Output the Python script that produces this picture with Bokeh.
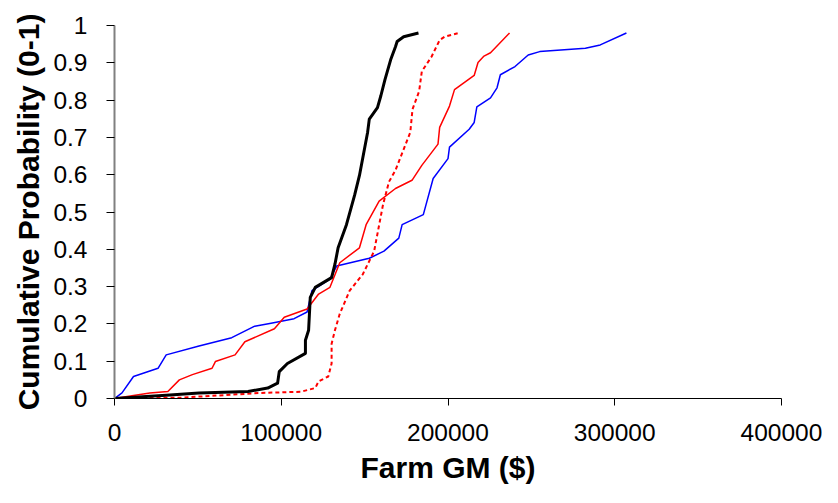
from bokeh.plotting import figure
from bokeh.models import Range1d, FixedTicker
from bokeh.embed import file_html
from bokeh.resources import INLINE

# Data
blue_x = [0, 4500, 11400, 26100, 31000, 50700, 70300, 84100, 93900, 107700, 115500, 118400, 129200,
          133200, 152800, 161600, 170500, 172500, 185200, 191100, 200000, 200900, 212700, 215700,
          217300, 225500, 229400, 231400, 240200, 248100, 255000, 282400, 291300, 307000]
blue_y = [0, 0.015, 0.059, 0.081, 0.117, 0.141, 0.163, 0.194, 0.202, 0.214, 0.232, 0.289, 0.320,
          0.355, 0.376, 0.395, 0.430, 0.466, 0.493, 0.590, 0.643, 0.674, 0.722, 0.740,
          0.782, 0.806, 0.833, 0.868, 0.890, 0.921, 0.930, 0.939, 0.948, 0.980]

red_x = [0, 11400, 21200, 32000, 38900, 46700, 58500, 60500, 72300, 78200, 95900, 101800, 115500,
         122400, 129200, 135100, 146900, 150900, 158700, 168500, 178400, 184300, 194000, 195000,
         200900, 203900, 215700, 218000, 221600, 225500, 236900]
red_y = [0, 0.008, 0.015, 0.019, 0.050, 0.064, 0.081, 0.099, 0.117, 0.152, 0.187, 0.218, 0.240,
         0.280, 0.298, 0.364, 0.404, 0.466, 0.529, 0.563, 0.585, 0.625, 0.682, 0.727,
         0.784, 0.828, 0.866, 0.901, 0.918, 0.927, 0.980]

dot_x = [0, 38900, 88000, 111600, 120400, 122400, 128200, 130200, 130200, 132200, 135100, 141000,
         148900, 155700, 161000, 164600, 168500, 177400, 178700, 182700, 184300, 190200, 195000,
         198000, 205800]
dot_y = [0, 0.002, 0.015, 0.018, 0.028, 0.046, 0.059, 0.094, 0.147, 0.183, 0.227, 0.289,
         0.333, 0.395, 0.519, 0.581, 0.612, 0.714, 0.775, 0.824, 0.877, 0.917, 0.961,
         0.970, 0.979]

black_x = [0, 31000, 50700, 80100, 91900, 97800, 98800, 103700, 114500, 114500, 116400, 117400,
           120400, 130200, 132200, 134100, 139100, 144000, 146900, 151800, 152800, 157700, 159700,
           162200, 165600, 168500, 169500, 173400, 182300]
black_y = [0, 0.009, 0.015, 0.019, 0.028, 0.041, 0.072, 0.094, 0.121, 0.156, 0.183, 0.271,
           0.298, 0.324, 0.360, 0.404, 0.466, 0.545, 0.598, 0.714, 0.749, 0.780, 0.811,
           0.855, 0.908, 0.943, 0.957, 0.970, 0.980]

x_ticks = [0, 100000, 200000, 300000, 400000]
x_labels = ["0", "100000", "200000", "300000", "400000"]
y_ticks = [0, 0.1, 0.2, 0.3, 0.4, 0.5, 0.6, 0.7, 0.8, 0.9, 1]
y_labels = ["0", "0.1", "0.2", "0.3", "0.4", "0.5", "0.6", "0.7", "0.8", "0.9", "1"]

x_title = "Farm GM ($)"
y_title = "Cumulative Probability (0-1)"

p = figure(width=822, height=487, output_backend="svg", toolbar_location=None,
           x_range=Range1d(0, 400000), y_range=Range1d(0, 1),
           min_border_left=114, min_border_right=41, min_border_top=25, min_border_bottom=89)
p.outline_line_color = None
p.xgrid.grid_line_color = None
p.ygrid.grid_line_color = None
p.background_fill_color = "white"
p.border_fill_color = "white"

p.line(blue_x, blue_y, line_color="#0000FF", line_width=1.5, line_join="round")
p.line(red_x, red_y, line_color="#FF0000", line_width=1.5, line_join="round")
p.line(dot_x, dot_y, line_color="#FF0000", line_width=2, line_dash="4 3")
p.line(black_x, black_y, line_color="#000000", line_width=3, line_join="round")

font = "Liberation Sans"

xa = p.xaxis[0]
xa.ticker = FixedTicker(ticks=x_ticks)
xa.major_label_overrides = dict(zip(x_ticks, x_labels))
xa.minor_tick_line_color = None
xa.major_tick_out = 7
xa.major_tick_in = 0
xa.axis_line_color = "black"
xa.major_tick_line_color = "black"
xa.major_label_text_font = font
xa.major_label_text_font_size = "24.5px"
xa.major_label_text_color = "black"
xa.major_label_standoff = 18
xa.axis_label = x_title
xa.axis_label_text_font = font
xa.axis_label_text_font_size = "30px"
xa.axis_label_text_font_style = "bold"
xa.axis_label_text_color = "black"
xa.axis_label_standoff = 7

ya = p.yaxis[0]
ya.ticker = FixedTicker(ticks=y_ticks)
ya.major_label_overrides = dict(zip(y_ticks, y_labels))
ya.minor_tick_line_color = None
ya.major_tick_out = 8
ya.major_tick_in = 0
ya.axis_line_color = "#808080"
ya.axis_line_width = 2
ya.major_tick_line_color = "black"
ya.major_label_text_font = font
ya.major_label_text_font_size = "24.5px"
ya.major_label_text_color = "black"
ya.major_label_standoff = 19
ya.axis_label = y_title
ya.axis_label_text_font = font
ya.axis_label_text_font_size = "30px"
ya.axis_label_text_font_style = "bold"
ya.axis_label_text_color = "black"
ya.axis_label_standoff = 5

open("out.html", "w").write(file_html(p, INLINE))
